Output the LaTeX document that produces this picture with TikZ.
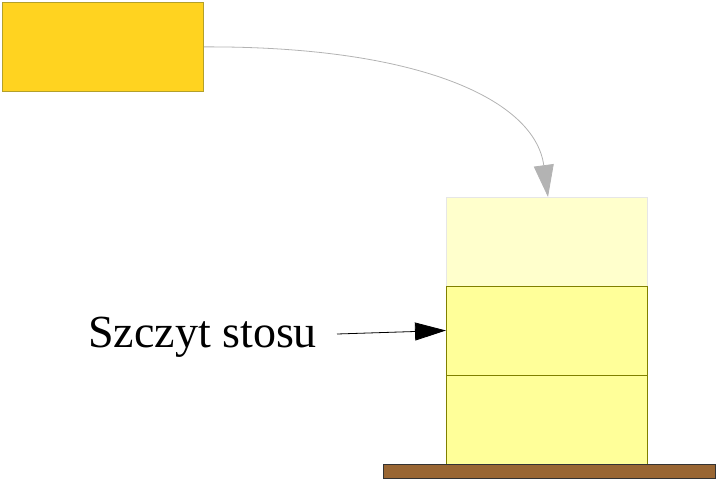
\documentclass[tikz,border=0pt]{standalone}
\usepackage{fontspec}
\setmainfont{Liberation Serif}
\usetikzlibrary{arrows.meta}
\definecolor{topyellow}{HTML}{FFD320}
\definecolor{topedge}{HTML}{B3A02A}
\definecolor{paleyellow}{HTML}{FFFFCC}
\definecolor{paleedge}{HTML}{E6E6E6}
\definecolor{stackyellow}{HTML}{FFFF99}
\definecolor{stackedge}{HTML}{808000}
\definecolor{brown}{HTML}{996633}
\definecolor{curvegray}{HTML}{B3B3B3}
\tikzset{
  box/.style={draw=stackedge, fill=stackyellow, line width=0.8pt, minimum width=201pt, minimum height=89pt, inner sep=0pt, outer sep=0pt},
}
\begin{document}
\begin{tikzpicture}[x=1pt,y=-1pt]
\useasboundingbox (0,0) rectangle (717,479);
\node[draw=topedge, fill=topyellow, line width=0.8pt, minimum width=201pt, minimum height=89pt, inner sep=0pt, anchor=north west] (src) at (2,2) {};
\node[box, draw=paleedge, fill=paleyellow, anchor=north west] (pale) at (446,197) {};
\node[box, anchor=north west] (top) at (446,286) {};
\node[box, anchor=north west] (bot) at (446,375) {};
\node[draw=black!80, fill=brown, line width=0.8pt, minimum width=332pt, minimum height=14pt, inner sep=0pt, anchor=north west] (base) at (383,464) {};
\node[anchor=base west, inner sep=0pt, font=\fontsize{46}{50}\selectfont] (lbl) at (88,347) {Szczyt stosu};
\coordinate (arrstart) at (337,334);
\draw[curvegray, line width=0.8pt, -{Triangle[length=32pt,width=20pt]}] (src.east) .. controls (420,46) and (535,100) .. (pale.north -| 548,0);
\draw[black, line width=0.8pt, -{Triangle[length=31pt,width=18pt]}] (arrstart) -- (top.west);
\end{tikzpicture}
\end{document}
